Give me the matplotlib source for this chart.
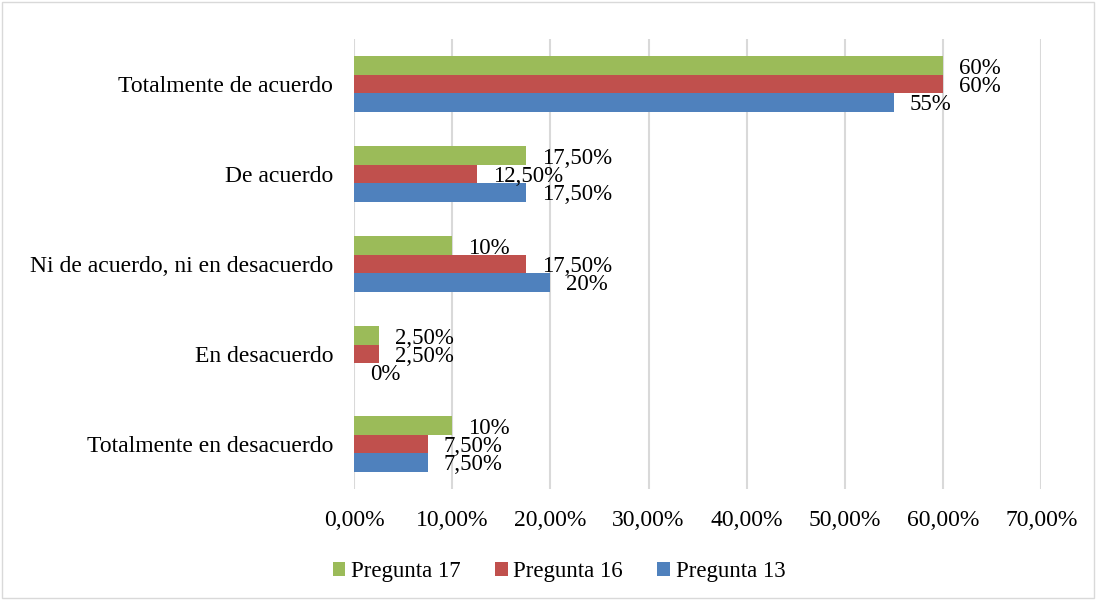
import matplotlib.pyplot as plt
import numpy as np
from matplotlib.patches import Rectangle
from matplotlib.ticker import FuncFormatter

plt.rcParams["font.family"] = ["Liberation Serif", "DejaVu Serif"]

categories = [
    "Totalmente en desacuerdo",
    "En desacuerdo",
    "Ni de acuerdo, ni en desacuerdo",
    "De acuerdo",
    "Totalmente de acuerdo",
]
series_names = ["Pregunta 17", "Pregunta 16", "Pregunta 13"]
pregunta_17 = [10, 2.5, 10, 17.5, 60]
pregunta_16 = [7.5, 2.5, 17.5, 12.5, 60]
pregunta_13 = [7.5, 0, 20, 17.5, 55]
colors = ["#9BBB59", "#C0504D", "#4F81BD"]


def pct_label(v):
    if float(v).is_integer():
        return f"{int(v)}%"
    return f"{v:.2f}%".replace(".", ",")


fig = plt.figure(figsize=(10.96, 6), dpi=100)
ax = fig.add_axes([0.323, 0.185, 0.627, 0.75])

y = np.arange(len(categories))
h = 0.205
offsets = [h, 0, -h]
all_series = [pregunta_17, pregunta_16, pregunta_13]

for vals, off, col, name in zip(all_series, offsets, colors, series_names):
    ax.barh(y + off, vals, height=h, color=col, label=name, zorder=3)
    for yi, v in zip(y, vals):
        ax.annotate(pct_label(v), (v, yi + off), xytext=(16, -2.5),
                    textcoords="offset pixels",
                    ha="left", va="center", fontsize=16.5, color="#000000", zorder=4)

ax.set_xlim(0, 70)
ax.set_ylim(-0.5, 4.5)
ax.set_xticks(np.arange(0, 71, 10))
ax.xaxis.set_major_formatter(FuncFormatter(lambda x, _: f"{x:.2f}%".replace(".", ",")))
ax.set_yticks(y)
ax.set_yticklabels(categories)
ax.tick_params(axis="both", length=0, labelsize=17, colors="#000000")
ax.tick_params(axis="x", pad=15)
ax.tick_params(axis="y", pad=15)
ax.grid(axis="x", color="#D9D9D9", linewidth=1.5, zorder=0)
for s in ax.spines.values():
    s.set_visible(False)

handles, labels = ax.get_legend_handles_labels()
fig.legend(handles, labels, loc="center", bbox_to_anchor=(0.51, 0.047), ncol=3,
           frameon=False, fontsize=16.5, handlelength=0.55, handleheight=0.55,
           handletextpad=0.25, columnspacing=1.5)

fig.patches.append(Rectangle((0.002, 0.003), 0.996, 0.994, transform=fig.transFigure,
                             fill=False, edgecolor="#D9D9D9", linewidth=1))

fig.savefig("out.png", dpi=100)
